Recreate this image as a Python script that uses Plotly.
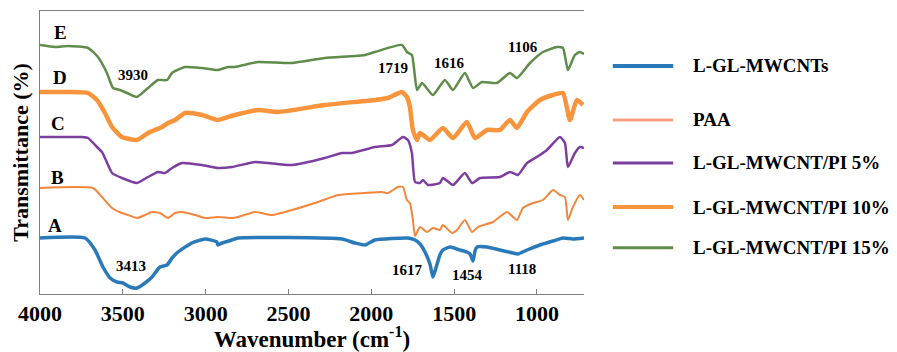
import plotly.graph_objects as go

# ---------------- data (wavenumber, stacked transmittance in arbitrary units) -------------
a_wn = [4000, 3728, 3668, 3620, 3577, 3535, 3499, 3457, 3415, 3366, 3324, 3276, 3233, 3203, 3167,
        3083, 3004, 2932, 2926, 2901, 2841, 2805, 2177, 2099, 2038, 1978, 1779, 1736, 1706, 1676,
        1646, 1628, 1610, 1586, 1568, 1525, 1465, 1423, 1404, 1386, 1374, 1362, 1302, 1224, 1145,
        1115, 1060, 982, 903, 843, 783, 716]
a_t = [56, 56, 44, 27, 16, 12, 11, 7, 6, 11, 17, 27, 29, 36, 42,
       51, 55, 52, 49, 51, 54, 56, 55, 51, 49, 54, 56, 54, 50, 42,
       30, 17, 26, 39, 44, 47, 44, 42, 40, 33, 43, 47, 47, 44, 41,
       40, 44, 49, 53, 56, 55, 56]

b_wn = [4000, 3680, 3626, 3565, 3505, 3469, 3415, 3366, 3324, 3276, 3227, 3185, 3143, 3064, 3004,
        2926, 2841, 2805, 2702, 2600, 2479, 2322, 2201, 2038, 1936, 1899, 1839, 1809, 1785, 1767,
        1749, 1736, 1706, 1664, 1628, 1586, 1568, 1513, 1483, 1435, 1392, 1356, 1266, 1181, 1121,
        1085, 1024, 964, 903, 861, 831, 813, 783, 741, 716]
b_t = [106, 106, 97, 86, 81, 79, 76, 79, 82, 81, 76, 81, 82, 79, 76,
       77, 76, 77, 82, 79, 84, 92, 99, 101, 102, 101, 107, 107, 94, 91,
       74, 58, 67, 62, 66, 64, 69, 61, 64, 74, 62, 67, 72, 82, 74,
       86, 91, 94, 104, 99, 97, 74, 87, 99, 94]

c_wn = [4000, 3831, 3746, 3710, 3656, 3626, 3608, 3565, 3505, 3415, 3348, 3288, 3245, 3203, 3143,
        3022, 2926, 2841, 2702, 2624, 2479, 2280, 2177, 2117, 1978, 1875, 1809, 1779, 1755, 1736,
        1706, 1688, 1658, 1586, 1568, 1507, 1435, 1392, 1344, 1224, 1163, 1115, 1060, 982, 940,
        861, 831, 813, 771, 741, 716]
c_t = [157, 157, 157, 156, 147, 142, 136, 121, 116, 111, 117, 122, 121, 126, 131,
       129, 126, 127, 132, 131, 129, 136, 141, 141, 147, 149, 157, 154, 141, 112,
       111, 114, 109, 111, 116, 109, 121, 111, 116, 117, 122, 119, 131, 139, 144,
       157, 151, 127, 141, 147, 146]

d_wn = [4000, 3831, 3710, 3656, 3608, 3565, 3505, 3415, 3348, 3264, 3227, 3185, 3125, 3022, 2926,
        2865, 2823, 2684, 2563, 2280, 1978, 1899, 1815, 1785, 1767, 1749, 1724, 1706, 1646, 1568,
        1507, 1423, 1374, 1302, 1224, 1163, 1121, 1060, 982, 903, 843, 801, 759, 722]
d_t = [202, 202, 201, 194, 181, 167, 157, 154, 161, 167, 171, 174, 181, 179, 174,
       177, 179, 184, 182, 189, 194, 196, 202, 197, 187, 164, 154, 161, 154, 166,
       156, 172, 156, 164, 164, 174, 166, 182, 194, 199, 201, 174, 194, 189]

e_wn = [4000, 3909, 3831, 3710, 3650, 3596, 3559, 3517, 3475, 3415, 3348, 3288, 3233, 3203, 3125,
        3022, 2926, 2865, 2823, 2684, 2479, 2280, 2038, 1978, 1815, 1785, 1755, 1724, 1694, 1628,
        1556, 1507, 1435, 1386, 1332, 1242, 1163, 1121, 1042, 964, 879, 843, 813, 771, 741, 716]
e_t = [249, 247, 248, 246, 237, 221, 206, 204, 201, 197, 206, 214, 214, 221, 227,
       226, 224, 227, 227, 232, 231, 236, 239, 242, 249, 242, 239, 204, 211, 199,
       214, 204, 221, 206, 212, 211, 221, 216, 231, 242, 247, 246, 224, 239, 242, 240]

series_names = ["L-GL-MWCNTs", "PAA", "L-GL-MWCNT/PI 5%", "L-GL-MWCNT/PI 10%", "L-GL-MWCNT/PI 15%"]
curve_letters = ["A", "B", "C", "D", "E"]
letter_wn = [3909, 3897, 3891, 3879, 3879]
letter_t = [69, 117, 171, 217, 262]

peak_labels = ["3930", "1719", "1616", "1106", "3413", "1617", "1454", "1118"]
peak_wn = [3439, 1869, 1525, 1085, 3451, 1779, 1417, 1091]
peak_t = [219, 226, 231, 247, 28, 24, 19, 25]

x_ticks = [4000, 3500, 3000, 2500, 2000, 1500, 1000]

# ---------------- styling ----------------
line_colors = ["#2a7ab9", "#f2873c", "#7d3f9f", "#f8943c", "#5f8c4a"]
legend_colors = ["#2a7ab9", "#f5a07f", "#7d3f9f", "#f8943c", "#5f8c4a"]
line_widths = [3.5, 2, 2.5, 4.5, 2.5]
FONT = "Liberation Serif"

fig = go.Figure()
all_x = [a_wn, b_wn, c_wn, d_wn, e_wn]
all_y = [a_t, b_t, c_t, d_t, e_t]
for name, xs, ys, col, w in zip(series_names, all_x, all_y, line_colors, line_widths):
    fig.add_trace(go.Scatter(x=xs, y=ys, mode="lines", name=name, showlegend=False,
                             line=dict(color=col, width=w, shape="spline", smoothing=0.5)))

annotations = []
for lab, xw, yt in zip(curve_letters, letter_wn, letter_t):
    annotations.append(dict(x=xw, y=yt, text=lab, showarrow=False, xref="x", yref="y",
                            xanchor="center", yanchor="middle",
                            font=dict(family=FONT, size=19, color="black", weight="bold")))
for lab, xw, yt in zip(peak_labels, peak_wn, peak_t):
    annotations.append(dict(x=xw, y=yt, text=lab, showarrow=False, xref="x", yref="y",
                            xanchor="center", yanchor="middle",
                            font=dict(family=FONT, size=15, color="black", weight="bold")))

# manual legend
legend_y = [0.806, 0.615, 0.463, 0.307, 0.163]
shapes = []
for name, col, ly, w in zip(series_names, legend_colors, legend_y, [4, 3, 3, 4, 3]):
    shapes.append(dict(type="line", xref="paper", yref="paper", x0=1.053, x1=1.164, y0=ly, y1=ly,
                       line=dict(color=col, width=w)))
    annotations.append(dict(x=1.197, y=ly, xref="paper", yref="paper", text=name, showarrow=False,
                            xanchor="left", yanchor="middle",
                            font=dict(family=FONT, size=19, color="black", weight="bold")))

fig.update_layout(
    width=889, height=344,
    margin=dict(l=32, r=313, t=3, b=58),
    paper_bgcolor="white", plot_bgcolor="white",
    annotations=annotations, shapes=shapes,
    showlegend=False,
)
fig.update_xaxes(range=[4000, 716], tickvals=x_ticks, ticktext=[str(v) for v in x_ticks],
                 ticks="inside", ticklen=5, tickcolor="#7f7f7f",
                 showline=True, linecolor="#7f7f7f", linewidth=1, mirror=True,
                 showgrid=False, zeroline=False,
                 tickfont=dict(family=FONT, size=22, color="black", weight="bold"),
                 title=dict(text="Wavenumber (cm<sup>-1</sup>)", standoff=3,
                            font=dict(family=FONT, size=23, color="black", weight="bold")))
fig.update_yaxes(range=[0, 283], showticklabels=False, ticks="",
                 showline=True, linecolor="#7f7f7f", linewidth=1,
                 showgrid=False, zeroline=False,
                 title=dict(text="Transmittance (%)", standoff=11,
                            font=dict(family=FONT, size=22, color="black", weight="bold")))

fig.write_html("out.html")
